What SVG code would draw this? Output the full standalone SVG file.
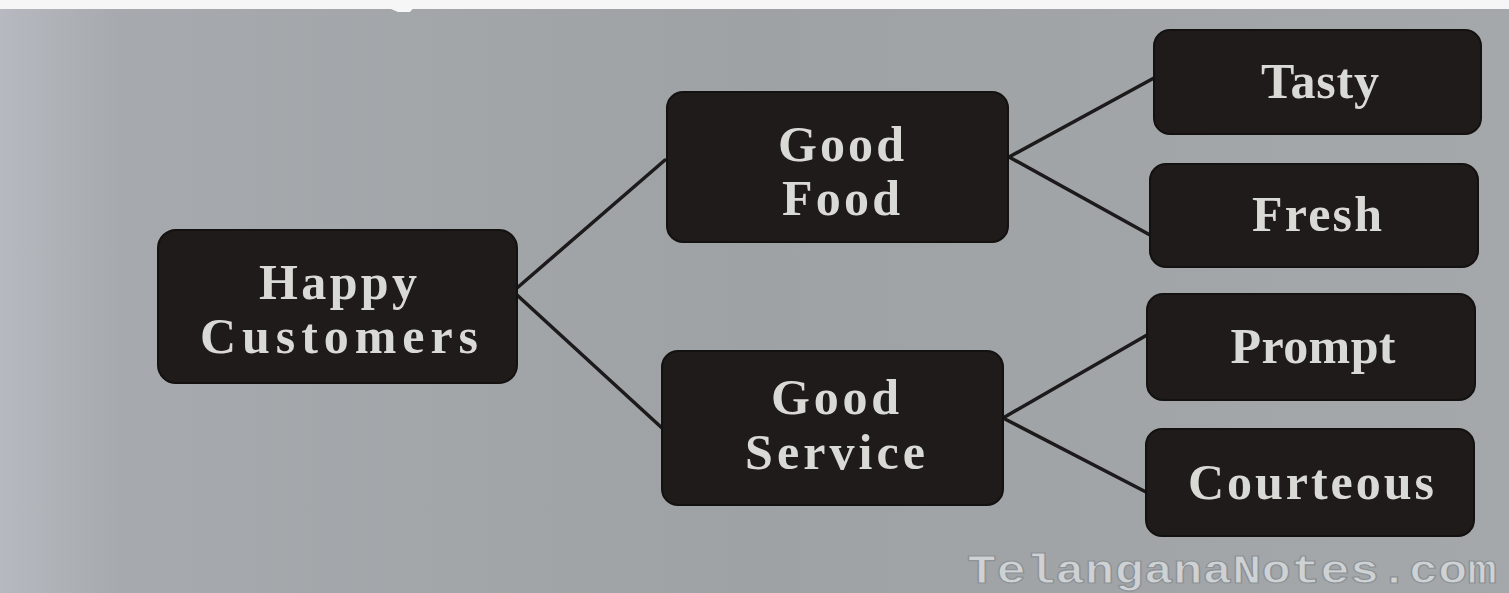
<svg xmlns="http://www.w3.org/2000/svg" width="1509" height="593" viewBox="0 0 1509 593">
<defs>
<linearGradient id="bg" x1="0" y1="0" x2="1" y2="0">
<stop offset="0" stop-color="#b6b9bf"/>
<stop offset="0.08" stop-color="#a6aaae"/>
<stop offset="0.5" stop-color="#9ea2a5"/>
<stop offset="1" stop-color="#a4a8aa"/>
</linearGradient>
<style>
.box{fill:#1f1b1b;stroke:#141111;stroke-width:2}
.lbl{font-family:"Liberation Serif","Times New Roman",serif;font-weight:bold;font-size:50px;fill:#d9d9d5;text-anchor:middle}
.con{stroke:#1c1a1a;stroke-width:3.5;fill:none;stroke-linecap:round}
.wm{font-family:"Liberation Mono","DejaVu Sans Mono",monospace;font-weight:bold;font-size:40px;fill:#cfd2d5;stroke:#8d9296;stroke-width:1.2}
</style>
</defs>
<rect width="1509" height="593" fill="url(#bg)"/>
<rect x="0" y="0" width="1509" height="9" fill="#f6f6f6"/>
<polygon points="370,0 420,0 410,12 398,12" fill="#f6f6f6"/>
<g id="connectors">
<line class="con" x1="517" y1="288" x2="665" y2="160"/>
<line class="con" x1="517" y1="295" x2="662" y2="428"/>
<line class="con" x1="1009" y1="157" x2="1154" y2="78"/>
<line class="con" x1="1009" y1="157" x2="1150" y2="235"/>
<line class="con" x1="1003" y1="418" x2="1147" y2="335"/>
<line class="con" x1="1003" y1="418" x2="1146" y2="492"/>
</g>
<g id="happy-customers">
<rect class="box" x="158" y="230" width="359" height="153" rx="18"/>
<text class="lbl" x="338" y="299" textLength="158" lengthAdjust="spacing">Happy</text>
<text class="lbl" x="339" y="353" textLength="278" lengthAdjust="spacing">Customers</text>
</g>
<g id="good-food">
<rect class="box" x="667" y="92" width="341" height="150" rx="16"/>
<text class="lbl" x="841" y="161" textLength="126" lengthAdjust="spacing">Good</text>
<text class="lbl" x="841" y="215" textLength="118" lengthAdjust="spacing">Food</text>
</g>
<g id="good-service">
<rect class="box" x="662" y="351" width="341" height="154" rx="16"/>
<text class="lbl" x="835" y="414" textLength="128" lengthAdjust="spacing">Good</text>
<text class="lbl" x="835" y="469" textLength="180" lengthAdjust="spacing">Service</text>
</g>
<g id="tasty">
<rect class="box" x="1154" y="30" width="327" height="104" rx="16"/>
<text class="lbl" x="1320" y="98" textLength="118" lengthAdjust="spacing">Tasty</text>
</g>
<g id="fresh">
<rect class="box" x="1150" y="164" width="328" height="103" rx="16"/>
<text class="lbl" x="1317" y="231" textLength="130" lengthAdjust="spacing">Fresh</text>
</g>
<g id="prompt">
<rect class="box" x="1147" y="294" width="328" height="106" rx="16"/>
<text class="lbl" x="1313" y="363" textLength="165" lengthAdjust="spacing">Prompt</text>
</g>
<g id="courteous">
<rect class="box" x="1146" y="429" width="328" height="107" rx="16"/>
<text class="lbl" x="1311" y="499" textLength="246" lengthAdjust="spacing">Courteous</text>
</g>
<text class="wm" x="967" y="583" textLength="530" lengthAdjust="spacingAndGlyphs">TelanganaNotes.com</text>
</svg>
